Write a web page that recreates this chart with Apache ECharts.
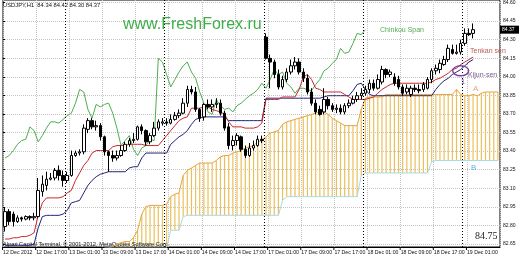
<!DOCTYPE html>
<html><head><meta charset="utf-8">
<script src="https://cdn.jsdelivr.net/npm/echarts/dist/echarts.min.js"></script>
<style>html,body{margin:0;padding:0;background:#fff}#c{width:520px;height:260px}</style>
</head><body><div id="c"></div>
<script>
// ---- data (USDJPY, H1) ----
const tickLabels = ["12 Dec 2012","12 Dec 17:00","13 Dec 01:00","13 Dec 09:00","13 Dec 17:00","14 Dec 01:00","14 Dec 09:00","14 Dec 17:00","17 Dec 01:00","17 Dec 09:00","17 Dec 17:00","18 Dec 01:00","18 Dec 09:00","18 Dec 17:00","19 Dec 01:00"];
const barsPerLabel = 8;
const totalSlots = 120;
const daySeparators = [15, 39, 63, 87, 111]; // first bar of each new day

const openP = [82.79,82.91,82.89,82.83,82.86,82.85,82.87,82.86,82.87,83.07,
83.12,83.17,83.18,83.24,83.20,83.16,83.20,83.36,83.38,83.39,
83.57,83.64,83.59,83.60,83.51,83.39,83.36,83.34,83.36,83.40,
83.45,83.48,83.49,83.59,83.56,83.47,83.52,83.58,83.62,83.63,
83.62,83.65,83.68,83.70,83.78,83.89,83.87,83.73,83.67,83.77,
83.75,83.77,83.78,83.70,83.59,83.44,83.48,83.51,83.41,83.36,
83.42,83.44,83.49,84.31,84.14,84.11,84.01,83.91,83.97,84.03,
84.08,84.11,84.03,83.98,83.87,83.78,83.73,83.71,83.81,83.76,
83.73,83.74,83.71,83.76,83.78,83.81,83.84,83.86,83.89,83.94,
83.90,83.95,84.05,84.01,83.99,83.97,83.91,83.87,83.85,83.90,
83.89,83.89,83.90,83.97,84.04,84.05,84.09,84.13,84.21,84.18,
84.19,84.26,84.34,84.34];
const closeP = [82.91,82.83,82.83,82.86,82.85,82.87,82.86,82.87,83.08,83.13,
83.17,83.18,83.24,83.20,83.16,83.20,83.36,83.38,83.39,83.58,
83.64,83.59,83.60,83.51,83.39,83.36,83.34,83.36,83.40,83.45,
83.48,83.49,83.59,83.56,83.47,83.52,83.58,83.63,83.63,83.62,
83.65,83.68,83.70,83.78,83.89,83.87,83.73,83.66,83.77,83.75,
83.77,83.78,83.70,83.58,83.44,83.48,83.52,83.41,83.36,83.42,
83.44,83.49,83.48,84.14,84.11,84.01,83.91,83.97,84.03,84.08,
84.11,84.03,83.98,83.87,83.78,83.71,83.69,83.81,83.76,83.73,
83.74,83.71,83.76,83.78,83.81,83.84,83.86,83.89,83.94,83.90,
83.97,84.05,84.01,84.03,83.94,83.91,83.86,83.90,83.90,83.89,
83.88,83.93,83.97,84.04,84.06,84.10,84.13,84.22,84.18,84.19,
84.26,84.34,84.33,84.37];
const highP = [82.94,82.93,82.91,82.88,82.87,82.88,82.88,82.90,83.18,83.20,
83.23,83.22,83.26,83.28,83.24,83.23,83.40,83.40,83.41,83.61,
83.66,83.66,83.64,83.62,83.52,83.40,83.40,83.40,83.44,83.47,
83.50,83.54,83.60,83.61,83.57,83.54,83.63,83.65,83.66,83.66,
83.69,83.71,83.73,83.82,83.92,83.92,83.91,83.74,83.78,83.81,
83.81,83.82,83.81,83.72,83.62,83.52,83.54,83.52,83.44,83.46,
83.48,83.52,83.52,84.34,84.17,84.13,84.05,84.00,84.06,84.13,
84.15,84.14,84.06,84.01,83.90,83.81,83.76,83.90,83.83,83.78,
83.77,83.77,83.78,83.81,83.84,83.87,83.90,83.92,83.97,83.97,
84.01,84.08,84.06,84.05,84.02,84.00,83.93,83.93,83.92,83.93,
83.93,83.95,83.99,84.06,84.09,84.13,84.16,84.25,84.25,84.25,
84.29,84.38,84.38,84.42];
const lowP = [82.75,82.80,82.79,82.82,82.83,82.84,82.84,82.84,82.86,83.03,
83.08,83.16,83.16,83.16,83.11,83.14,83.19,83.35,83.36,83.37,
83.54,83.57,83.56,83.48,83.36,83.23,83.31,83.32,83.35,83.39,
83.43,83.46,83.48,83.53,83.44,83.45,83.51,83.56,83.60,83.60,
83.61,83.64,83.66,83.69,83.75,83.85,83.71,83.63,83.64,83.73,
83.71,83.74,83.68,83.56,83.41,83.40,83.44,83.39,83.34,83.35,
83.40,83.43,83.46,84.13,83.90,83.98,83.89,83.89,83.95,84.01,
84.05,84.01,83.95,83.85,83.76,83.69,83.68,83.69,83.73,83.71,
83.70,83.69,83.69,83.74,83.77,83.79,83.81,83.84,83.86,83.88,
83.89,83.93,83.98,83.99,83.92,83.89,83.84,83.85,83.83,83.87,
83.86,83.87,83.89,83.94,84.01,84.02,84.08,84.11,84.17,84.17,
84.17,84.24,84.32,84.30];

const tenkan = [82.69,82.69,82.70,82.70,82.71,82.71,82.72,82.74,82.88,82.98,
83.02,83.02,83.02,83.02,83.03,83.06,83.08,83.16,83.22,83.28,
83.32,83.38,83.40,83.40,83.40,83.40,83.43,83.44,83.44,83.44,
83.45,83.45,83.45,83.45,83.44,83.44,83.44,83.44,83.48,83.52,
83.56,83.60,83.64,83.66,83.67,83.74,83.74,83.74,83.75,83.75,
83.73,83.72,83.71,83.69,83.63,83.59,83.59,83.59,83.58,83.58,
83.58,83.59,83.62,83.81,83.81,83.81,83.81,83.83,83.83,83.83,
83.83,83.89,83.99,84.01,83.97,83.90,83.89,83.87,83.87,83.87,
83.87,83.87,83.85,83.83,83.81,83.81,83.81,83.81,83.82,83.83,
83.86,83.89,83.91,83.93,83.94,83.94,83.94,83.94,83.94,83.94,
83.94,83.94,83.94,83.95,83.97,83.98,84.00,84.02,84.05,84.06,
84.09,84.11,84.13,84.15];
const kijun = [82.64,82.64,82.64,82.64,82.64,82.64,82.64,82.65,82.78,82.87,
82.88,82.88,82.88,82.88,82.89,82.92,82.98,82.99,83.00,83.06,
83.12,83.16,83.19,83.21,83.22,83.23,83.23,83.23,83.23,83.23,
83.26,83.27,83.27,83.34,83.38,83.38,83.38,83.38,83.38,83.38,
83.45,83.48,83.51,83.53,83.56,83.61,83.65,83.66,83.67,83.67,
83.67,83.67,83.67,83.67,83.64,83.64,83.64,83.64,83.64,83.64,
83.64,83.64,83.64,83.82,83.82,83.82,83.82,83.82,83.82,83.82,
83.82,83.82,83.82,83.82,83.82,83.82,83.82,83.83,83.84,83.84,
83.84,83.84,83.84,83.84,83.88,83.93,83.94,83.89,83.85,83.84,
83.84,83.84,83.84,83.84,83.84,83.84,83.84,83.84,83.84,83.84,
83.84,83.84,83.84,83.84,83.89,83.93,83.96,83.98,84.01,84.03,
84.05,84.08,84.11,84.13];
const chikou = [83.34,83.36,83.40,83.45,83.48,83.49,83.59,83.56,83.47,83.52,
83.58,83.63,83.63,83.62,83.65,83.68,83.70,83.78,83.89,83.87,
83.73,83.66,83.77,83.75,83.77,83.78,83.70,83.58,83.44,83.48,
83.52,83.41,83.36,83.42,83.44,83.49,83.48,84.14,84.11,84.01,
83.91,83.97,84.03,84.08,84.11,84.03,83.98,83.87,83.78,83.71,
83.69,83.81,83.76,83.73,83.74,83.71,83.76,83.78,83.81,83.84,
83.86,83.89,83.94,83.90,83.97,84.05,84.01,84.03,83.94,83.91,
83.86,83.90,83.90,83.89,83.88,83.93,83.97,84.04,84.06,84.10,
84.13,84.22,84.18,84.19,84.26,84.34,84.33,84.37];
const spanA = [null,null,null,null,null,null,null,null,null,null,
null,null,null,null,null,null,null,null,null,null,
null,null,null,null,82.60,82.62,82.63,82.65,82.66,82.67,
82.67,82.70,82.76,82.89,82.95,82.96,82.96,82.96,82.96,82.97,
83.03,83.05,83.06,83.20,83.24,83.26,83.28,83.30,83.30,83.30,
83.30,83.32,83.35,83.36,83.36,83.38,83.39,83.40,83.42,83.43,
83.44,83.47,83.48,83.51,83.54,83.55,83.56,83.61,83.63,83.64,
83.65,83.66,83.67,83.68,83.69,83.70,83.71,83.71,83.69,83.66,
83.64,83.62,83.60,83.60,83.60,83.60,83.73,83.82,83.83,83.83,
83.83,83.83,83.85,83.85,83.85,83.85,83.85,83.85,83.85,83.85,
83.85,83.85,83.85,83.85,83.85,83.85,83.85,83.85,83.85,83.89,
83.85,83.84,83.84,83.85,83.84,83.86,83.87,83.87,83.87,83.87];
const spanB = [null,null,null,null,null,null,null,null,null,null,
null,null,null,null,null,null,null,null,null,null,
null,null,null,null,82.62,82.62,82.62,82.62,82.62,82.62,
82.62,82.62,82.62,82.62,82.62,82.62,82.62,82.62,82.62,82.62,
82.76,82.76,82.76,82.87,82.88,82.88,82.88,82.88,82.88,82.88,
82.88,82.88,82.88,82.88,82.88,82.88,82.88,82.88,82.88,82.88,
82.88,82.88,82.88,82.88,82.88,82.88,82.88,83.00,83.03,83.03,
83.03,83.03,83.03,83.03,83.03,83.03,83.03,83.03,83.03,83.03,
83.03,83.03,83.03,83.03,83.03,83.03,83.20,83.22,83.22,83.22,
83.22,83.22,83.22,83.22,83.22,83.22,83.22,83.22,83.22,83.22,
83.22,83.22,83.22,83.31,83.32,83.32,83.32,83.32,83.32,83.32,
83.32,83.32,83.32,83.32,83.32,83.32,83.32,83.32,83.32,83.32];

// price scale
const yMin = 82.626, yMax = 84.608;          // plotting range
const labelMin = 82.65, labelMax = 84.60, labelStep = 0.15;
const lastPrice = 84.37;

// ---- build ----
const chart = echarts.init(document.getElementById('c'), null, {renderer:'canvas', width:520, height:260});
const cats = Array.from({length: totalSlots}, (_, i) => String(i));
const candles = openP.map((o, i) => [o, closeP[i], lowP[i], highP[i]]);
const cloud = [];
spanA.forEach((a, i) => { if (a != null && spanB[i] != null) cloud.push([i, a, spanB[i]]); });
const FONT = 'Liberation Sans';
const gridBox = {left: 3, width: 497};

chart.setOption({
  animation: false,
  backgroundColor: '#fff',
  grid: [
    Object.assign({top: 0, height: 247, show: true, borderColor: '#000', borderWidth: 1}, gridBox),
    Object.assign({top: 1, height: 243}, gridBox)
  ],
  xAxis: [
    {type: 'category', gridIndex: 0, data: cats, boundaryGap: true,
     axisLine: {show: true, lineStyle: {color: '#000', width: 1}},
     axisTick: {show: false},
     axisLabel: {show: false},
     splitLine: {show: true, interval: (i) => i % barsPerLabel === 0, lineStyle: {color: '#c4c4c4', type: 'dotted', width: 1}}},
    {type: 'value', gridIndex: 0, min: -0.5, max: totalSlots - 0.5, show: false},
    {type: 'value', gridIndex: 1, min: 0, max: 1, show: false}
  ],
  yAxis: [
    {type: 'value', gridIndex: 0, min: yMin, max: yMax, show: false, splitLine: {show: false}},
    {type: 'value', gridIndex: 1, min: labelMin, max: labelMax, interval: labelStep, position: 'right',
     axisLine: {show: false}, axisTick: {show: true, length: 2, lineStyle: {color: '#000'}},
     axisLabel: {fontSize: 5, color: '#111', margin: 3, fontFamily: FONT, formatter: v => v.toFixed(2)},
     splitLine: {show: true, lineStyle: {color: '#c4c4c4', type: 'dotted', width: 1}}}
  ],
  series: [
    {type: 'custom', name: 'cloud', xAxisIndex: 0, yAxisIndex: 0, data: cloud, clip: true, z: 1, silent: true,
     encode: {x: 0, y: [1, 2]},
     renderItem: (params, api) => {
       const k = api.value(0);
       const p1 = api.coord([k, api.value(1)]);
       const p2 = api.coord([k, api.value(2)]);
       const w = 1.2;
       return {type: 'rect', shape: {x: p1[0] - w / 2, y: Math.min(p1[1], p2[1]), width: w, height: Math.abs(p2[1] - p1[1])},
               style: {fill: '#ebc05c'}};
     }},
    {type: 'line', name: 'Senkou A', data: spanA, symbol: 'none', z: 2, clip: true,
     lineStyle: {color: '#e8a23a', width: 1}},
    {type: 'line', name: 'Senkou B', data: spanB, symbol: 'none', z: 2, clip: true,
     lineStyle: {color: '#a6dbe6', width: 1}},
    {type: 'line', name: 'Chinkou Span', data: chikou, symbol: 'none', z: 3, clip: true,
     lineStyle: {color: '#4eae4e', width: 1}},
    {type: 'line', name: 'Kijun-sen', data: kijun, symbol: 'none', z: 3, clip: true,
     lineStyle: {color: '#22227a', width: 1}},
    {type: 'line', name: 'Tenkan-sen', data: tenkan, symbol: 'none', z: 3, clip: true,
     lineStyle: {color: '#c8282c', width: 1}},
    {type: 'candlestick', name: 'USDJPY', data: candles, barWidth: 3, z: 5, clip: true,
     itemStyle: {color: '#fff', color0: '#000', borderColor: '#000', borderColor0: '#000', borderWidth: 1}},
    {type: 'line', name: 'separators', xAxisIndex: 1, yAxisIndex: 0, data: [], z: 4,
     markLine: {silent: true, symbol: 'none', label: {show: false},
                lineStyle: {color: '#000', type: [1, 2], width: 1},
                data: daySeparators.map(k => ({xAxis: k - 0.5}))}}
  ]
});

// time-axis labels at every 8th bar, positioned through the category axis
const g = [];
tickLabels.forEach((lab, j) => {
  const px = chart.convertToPixel({xAxisIndex: 0}, j * barsPerLabel);
  g.push({type: 'text', x: px - 2, y: 253, z: 100, silent: true,
          style: {text: lab, fill: '#111', font: '5.2px "' + FONT + '"', align: 'left', verticalAlign: 'middle'}});
  g.push({type: 'line', z: 100, silent: true, shape: {x1: px - 2.5, y1: 247, x2: px - 2.5, y2: 250}, style: {stroke: '#000', lineWidth: 1}});
});

// annotations
const ell = chart.convertToPixel({xAxisIndex: 0, yAxisIndex: 0}, [110, 84.04]);
const lp = chart.convertToPixel({xAxisIndex: 0, yAxisIndex: 0}, [0, lastPrice]);
const t = (text, x, y, size, fill) => ({type: 'text', x: x, y: y, z: 100, silent: true,
  style: {text: text, fill: fill, font: size + 'px "' + FONT + '"', align: 'left', verticalAlign: 'middle'}});
chart.setOption({
  graphic: g.concat([
    t('USDJPY,H1  84.34 84.42 84.30 84.37', 3, 5, 5.8, '#111'),
    t('www.FreshForex.ru', 123, 25, 16, '#3fae49'),
    t('Chinkou Span', 380, 30, 7, '#52ad52'),
    t('Tenkan sen', 470, 51, 7, '#c05a5a'),
    t('Kijun-sen', 468, 75, 7, '#7a5a86'),
    t('A', 473, 89, 8, '#e8a47a'),
    t('B', 471, 168, 8, '#5fb2de'),
    t('1', 461, 82, 7, '#6a3a96'),
    {type: 'text', x: 475, y: 236, z: 100, silent: true,
     style: {text: '84.75', fill: '#222', font: '10px "Liberation Serif"', align: 'left', verticalAlign: 'middle'}},
    Object.assign(t('Alpari Capital Terminal, \u00a9 2001-2012, MetaQuotes Software Corp.', 3, 244, 5.7, '#111'), {z: 2}),
    {type: 'ellipse', z: 100, silent: true, shape: {cx: ell[0], cy: ell[1], rx: 8, ry: 5},
     style: {fill: 'none', stroke: '#7b3fa8', lineWidth: 1.4}},
    {type: 'rect', z: 100, silent: true, shape: {x: 500, y: lp[1] - 4, width: 19, height: 8}, style: {fill: '#000'}},
    t(lastPrice.toFixed(2), 502, lp[1], 5, '#fff')
  ])
});
</script>
</body></html>
